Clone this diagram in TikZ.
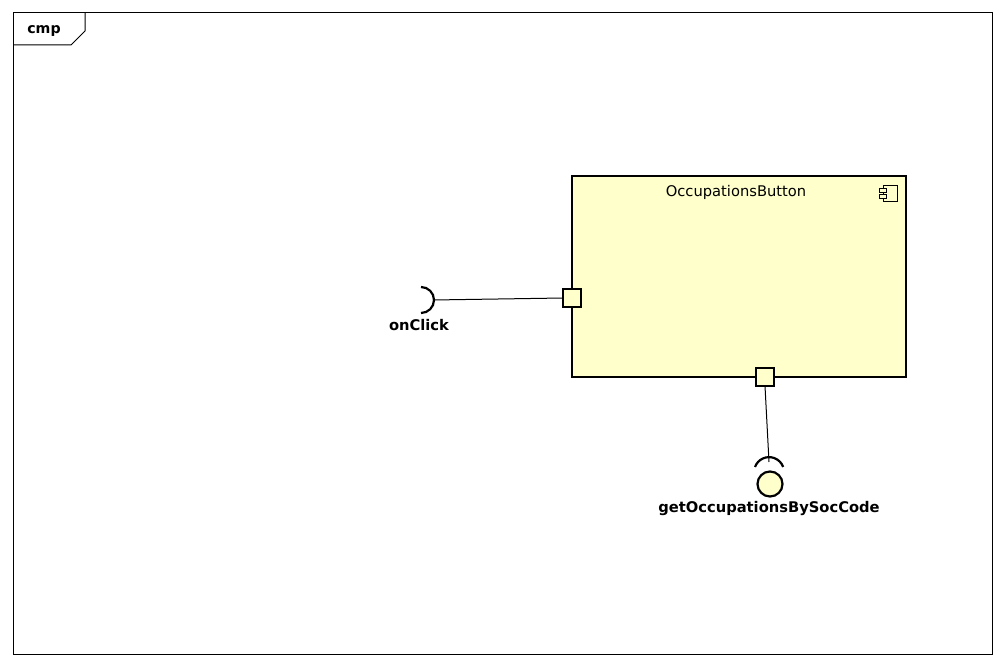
\documentclass[tikz,border=0pt]{standalone}
\usepackage{fontspec}
\setmainfont{DejaVu Sans}
\definecolor{compfill}{HTML}{FFFFCC}
\begin{document}
\begin{tikzpicture}[x=1pt,y=-1pt,
  frameline/.style={draw=black,line width=1pt},
  portbox/.style={draw=black,fill=compfill,line width=2.2pt,minimum size=18pt,inner sep=0pt,outer sep=0pt},
  lbl/.style={font=\bfseries\fontsize{14.7}{16}\selectfont,inner sep=0pt},
  conn/.style={draw=black,line width=1pt}]
\useasboundingbox (0,0) rectangle (1005,666);
\fill[white] (0,0) rectangle (1005,666);
% frame
\draw[frameline] (13,13) rectangle (992,654);
\draw[frameline] (13,45) -- (71,45) -- (85,31) -- (85,13);
\node[font=\bfseries\fontsize{14.2}{16}\selectfont,inner sep=0pt] (cmp) at (44,31) {cmp};
% component
\node[draw=black,fill=compfill,line width=2.6pt,minimum width=334pt,minimum height=201pt,inner sep=0pt,outer sep=0pt] (comp) at (739,276.5) {};
\node[font=\fontsize{14.7}{16}\selectfont,inner sep=0pt] (title) at (736,192) {OccupationsButton};
% component icon
\draw[line width=0.7pt] (883,185) rectangle (897,201);
\draw[line width=0.7pt,fill=compfill] (879,188) rectangle (886,192);
\draw[line width=0.7pt,fill=compfill] (879,194) rectangle (886,198);
% ports
\node[portbox] (pl) at (572,298) {};
\node[portbox] (pb) at (765,377) {};
% onClick required interface
\coordinate (req) at (433,300);
\draw[conn] (req) -- (pl.west);
\draw[line width=2.2pt] (421,287) arc[start angle=-90,end angle=90,radius=13];
\node[lbl] (onclick) at (419,325) {onClick};
% provided/required bottom
\coordinate (sock) at (769,462);
\draw[conn] (pb.south) -- (sock);
\draw[line width=2.2pt] (755,467) arc[start angle=200,end angle=340,radius=15];
\node[draw=black,fill=compfill,line width=2.2pt,circle,minimum size=25pt,inner sep=0pt] (ball) at (770,484) {};
\node[lbl] (getocc) at (769,508) {getOccupationsBySocCode};
\end{tikzpicture}
\end{document}
